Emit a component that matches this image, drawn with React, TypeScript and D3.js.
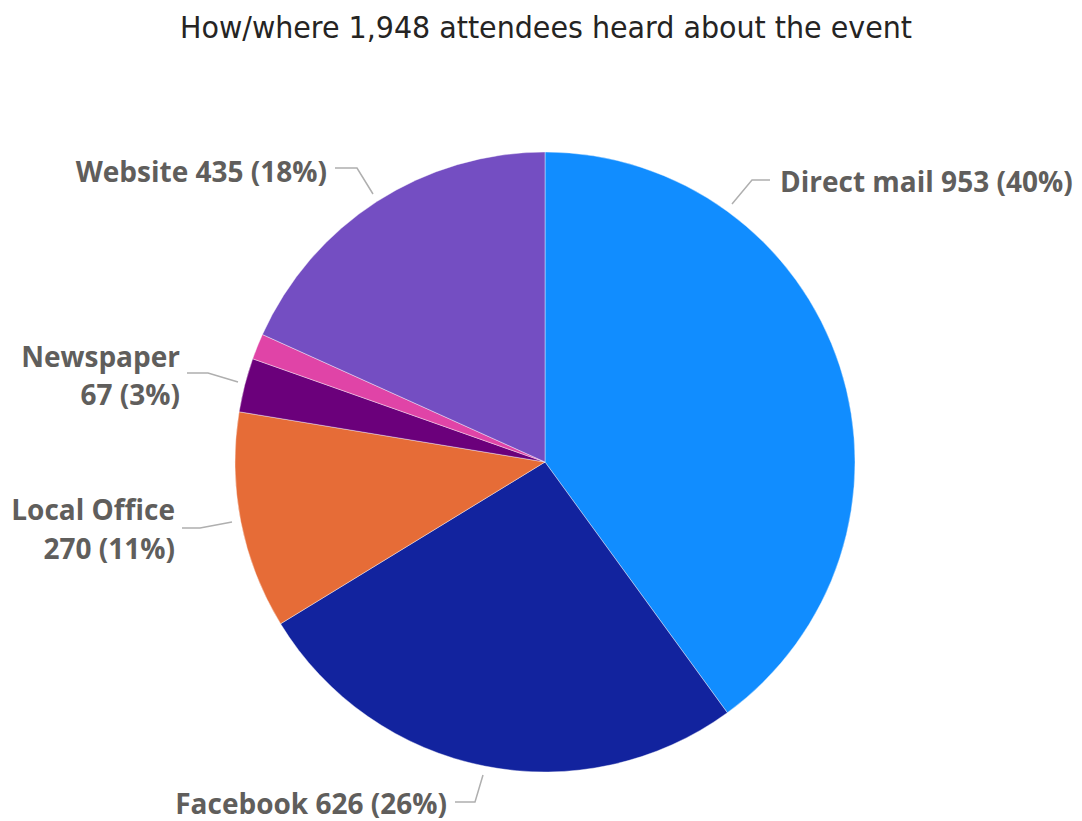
import React from "react";
import * as d3 from "d3";

const categories = ["Direct mail", "Facebook", "Local Office", "Newspaper", "Other", "Website"];
const values = [953, 626, 270, 67, 32, 435];
const percentLabels = ["40%", "26%", "11%", "3%", "1%", "18%"];
const colors = ["#118DFF", "#12239E", "#E66C37", "#6B007B", "#E044A7", "#744EC2"];
const titleText = "How/where 1,948 attendees heard about the event";

// label layout (annotation placement, relative to pie centre)
type LabelLayout = {
  name: string;
  lines: string[];
  anchor: "start" | "end";
  tx: number;
  ty: number[];
  path: [number, number][];
};

const W = 1082;
const H = 821;
const CX = 545;
const CY = 462;
const R = 310;

const labelLayout: LabelLayout[] = [
  { name: "Direct mail", lines: ["Direct mail 953 (40%)"], anchor: "start", tx: 235, ty: [-270], path: [[187, -258], [207, -282], [225, -282]] },
  { name: "Website", lines: ["Website 435 (18%)"], anchor: "end", tx: -218, ty: [-280], path: [[-210, -294], [-188, -294], [-172, -268]] },
  { name: "Newspaper", lines: ["Newspaper", "67 (3%)"], anchor: "end", tx: -365, ty: [-95, -57], path: [[-358, -89], [-337, -89], [-307, -80]] },
  { name: "Local Office", lines: ["Local Office", "270 (11%)"], anchor: "end", tx: -370, ty: [58, 97], path: [[-363, 66], [-345, 66], [-313, 60]] },
  { name: "Facebook", lines: ["Facebook 626 (26%)"], anchor: "end", tx: -98, ty: [352], path: [[-90, 340], [-70, 340], [-62, 313]] },
];

export default function App() {
  const data = categories.map((c, i) => ({ name: c, value: values[i], color: colors[i], pct: percentLabels[i] }));
  const pie = d3.pie<any>().value((d: any) => d.value).sort(null);
  const arcs = pie(data);
  const arc = d3.arc<any>().innerRadius(0).outerRadius(R);
  const line = d3.line();

  return (
    <svg width={W} height={H} style={{ position: "absolute", left: 0, top: 0, background: "#fff" }}>
      <text
        x={546}
        y={38}
        textAnchor="middle"
        fontFamily="'DejaVu Sans Condensed', 'Liberation Sans Narrow', Roboto, sans-serif"
        fontSize={31}
        fill="#252423"
        textLength={732}
        lengthAdjust="spacingAndGlyphs"
      >
        {titleText}
      </text>
      <g transform={`translate(${CX},${CY})`}>
        {arcs.map((a, i) => (
          <path key={i} d={arc(a) as string} fill={a.data.color} stroke="#ffffff" strokeOpacity={0.5} strokeWidth={0.8} />
        ))}
        {labelLayout.map((l, i) => (
          <g key={i}>
            <path d={line(l.path) as string} fill="none" stroke="#AFAFAF" strokeWidth={1.5} />
            {l.lines.map((t, j) => (
              <text
                key={j}
                x={l.tx}
                y={l.ty[j]}
                textAnchor={l.anchor}
                fontFamily="'Open Sans', 'Noto Sans', sans-serif"
                fontWeight={700}
                fontSize={28}
                fill="#605E5C"
              >
                {t}
              </text>
            ))}
          </g>
        ))}
      </g>
    </svg>
  );
}
